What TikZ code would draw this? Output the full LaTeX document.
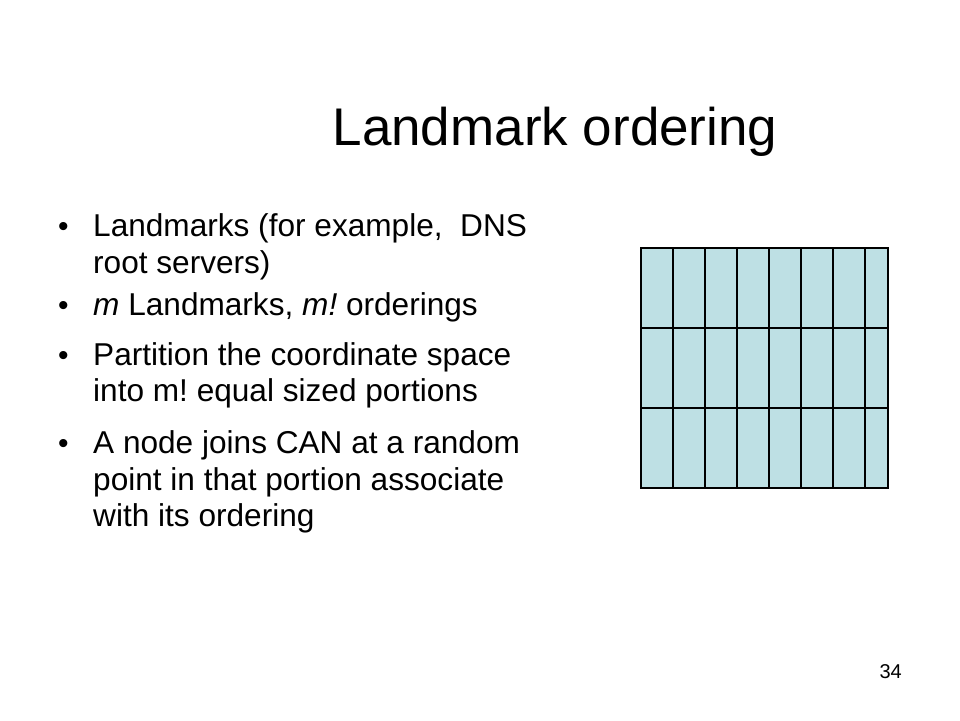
\documentclass[tikz,border=0pt]{standalone}
\usepackage{fontspec}
\setmainfont{Liberation Sans}
\usetikzlibrary{positioning}
\definecolor{cellblue}{RGB}{190,224,228}
\frenchspacing

\begin{document}
\begin{tikzpicture}[x=1pt,y=-1pt,
		slidetitle/.style={font=\fontsize{53}{60}\selectfont, anchor=base, inner sep=0pt},
		itemline/.style={font=\fontsize{31.6}{36}\selectfont, anchor=base west, inner sep=0pt},
		itemdot/.style={font=\fontsize{30}{36}\selectfont, anchor=base west, inner sep=0pt},
		pagenum/.style={font=\fontsize{20}{24}\selectfont, anchor=base east, inner sep=0pt},
		portion/.style={draw=black, line width=1.4pt}]
	\useasboundingbox (0,0) rectangle (960,720);
	% title
	\node[slidetitle] (title) at (555,145) {Landmark ordering};
	% bullets
	\foreach \name/\y in {b1/236.7, b2/315, b3/365, b4/453.3}
		\node[itemdot] (\name) at (58,\y) {\textbullet};
	\node[itemline] (l1) at (93,236.7) {Landmarks (for example,\ \ DNS};
	\node[itemline] (l2) at (93,273.3) {root servers)};
	\node[itemline] (l3) at (93,315) {\textit{m} Landmarks, \textit{m!}\/ orderings};
	\node[itemline] (l4) at (93,365) {Partition the coordinate space};
	\node[itemline] (l5) at (93,401.7) {into m! equal sized portions};
	\node[itemline] (l6) at (93,453.3) {A node joins CAN at a random};
	\node[itemline] (l7) at (93,490) {point in that portion associate};
	\node[itemline] (l8) at (93,526) {with its ordering};
	% coordinate space
	\fill[cellblue] (641,248) rectangle (888,488);
	\foreach \x in {673,705,...,865}
		\draw[portion] (\x,248) -- (\x,488);
	\foreach \y in {328,408}
		\draw[portion] (641,\y) -- (888,\y);
	\draw[portion] (641,248) rectangle (888,488);
	% page number
	\node[pagenum] (page) at (902,678) {34};
\end{tikzpicture}
\end{document}
